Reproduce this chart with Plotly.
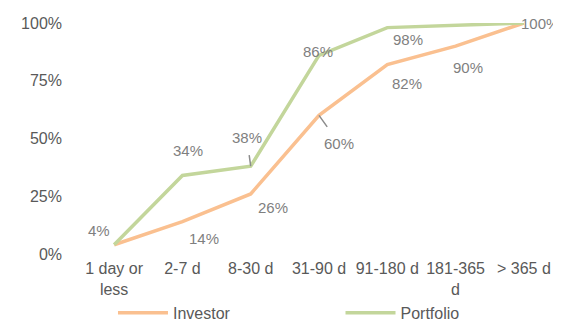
import plotly.graph_objects as go

categories = ["1 day or<br>less", "2-7 d", "8-30 d", "31-90 d", "91-180 d", "181-365<br>d", "> 365 d"]
investor = [4, 14, 26, 60, 82, 90, 100]
portfolio = [4, 34, 38, 86, 98, 99, 100]
investor_labels = ["4%", "14%", "26%", "60%", "82%", "90%", "100%"]
portfolio_labels = ["", "34%", "38%", "86%", "98%", "", ""]

# label offsets (pixels) relative to point
inv_off = [(-15, -14), (22, 17), (22, 14), (20, 28), (20, 19), (12, 21), (16, 0)]
port_off = [(0, 0), (6, -25), (-4, -29), (-1, -4), (21, 12), (0, 0), (0, 0)]
inv_arrow = [False, False, False, True, False, False, False]
port_arrow = [False, False, True, False, False, False, False]

ORANGE = "#FAC090"
GREEN = "#C3D69B"
LABEL = "#7F7F7F"
TICK = "#595959"

fig = go.Figure()
fig.add_trace(go.Scatter(x=categories, y=investor, mode="lines", name="Investor",
                         line=dict(color=ORANGE, width=3.5), cliponaxis=False,
                         legend="legend"))
fig.add_trace(go.Scatter(x=categories, y=portfolio, mode="lines", name="Portfolio",
                         line=dict(color=GREEN, width=3.5), cliponaxis=False,
                         legend="legend2"))

def add_labels(vals, labels, offs, arrows):
    for i, (v, t) in enumerate(zip(vals, labels)):
        if not t:
            continue
        dx, dy = offs[i]
        if arrows[i]:
            fig.add_annotation(x=categories[i], y=v, text=t, showarrow=True,
                               arrowhead=0, arrowwidth=1.5, arrowcolor="#8C8C8C",
                               ax=dx, ay=dy, standoff=0, startstandoff=8,
                               font=dict(size=15, color=LABEL))
        else:
            fig.add_annotation(x=categories[i], y=v, text=t, showarrow=False,
                               xshift=dx, yshift=-dy,
                               font=dict(size=15, color=LABEL))

add_labels(investor, investor_labels, inv_off, inv_arrow)
add_labels(portfolio, portfolio_labels, port_off, port_arrow)

leg_common = dict(orientation="h", yanchor="middle", y=-0.255, xanchor="left",
                  font=dict(size=16, color=TICK), itemwidth=50,
                  bgcolor="rgba(0,0,0,0)")

# page body has an 8px margin, so the figure is sized to the remaining area
fig.update_layout(
    width=553, height=315,
    margin=dict(l=72, r=3, t=15, b=69, autoexpand=False),
    paper_bgcolor="white", plot_bgcolor="white",
    font=dict(family="Liberation Sans, Arial, sans-serif", size=16, color=TICK),
    showlegend=True,
    legend=dict(x=0.069, **leg_common),
    legend2=dict(x=0.545, **leg_common),
    xaxis=dict(type="category", range=[-0.5, 6.5], showgrid=False, showline=False,
               zeroline=False, ticks="", automargin=False, ticklabelstandoff=3,
               tickfont=dict(size=16, color=TICK)),
    yaxis=dict(range=[0, 100], tickvals=[0, 25, 50, 75, 100],
               ticktext=["0%", "25%", "50%", "75%", "100%"],
               showgrid=False, showline=False, zeroline=False, ticks="",
               automargin=False, ticklabelstandoff=17,
               tickfont=dict(size=16, color=TICK)),
)

fig.write_html("out.html")
